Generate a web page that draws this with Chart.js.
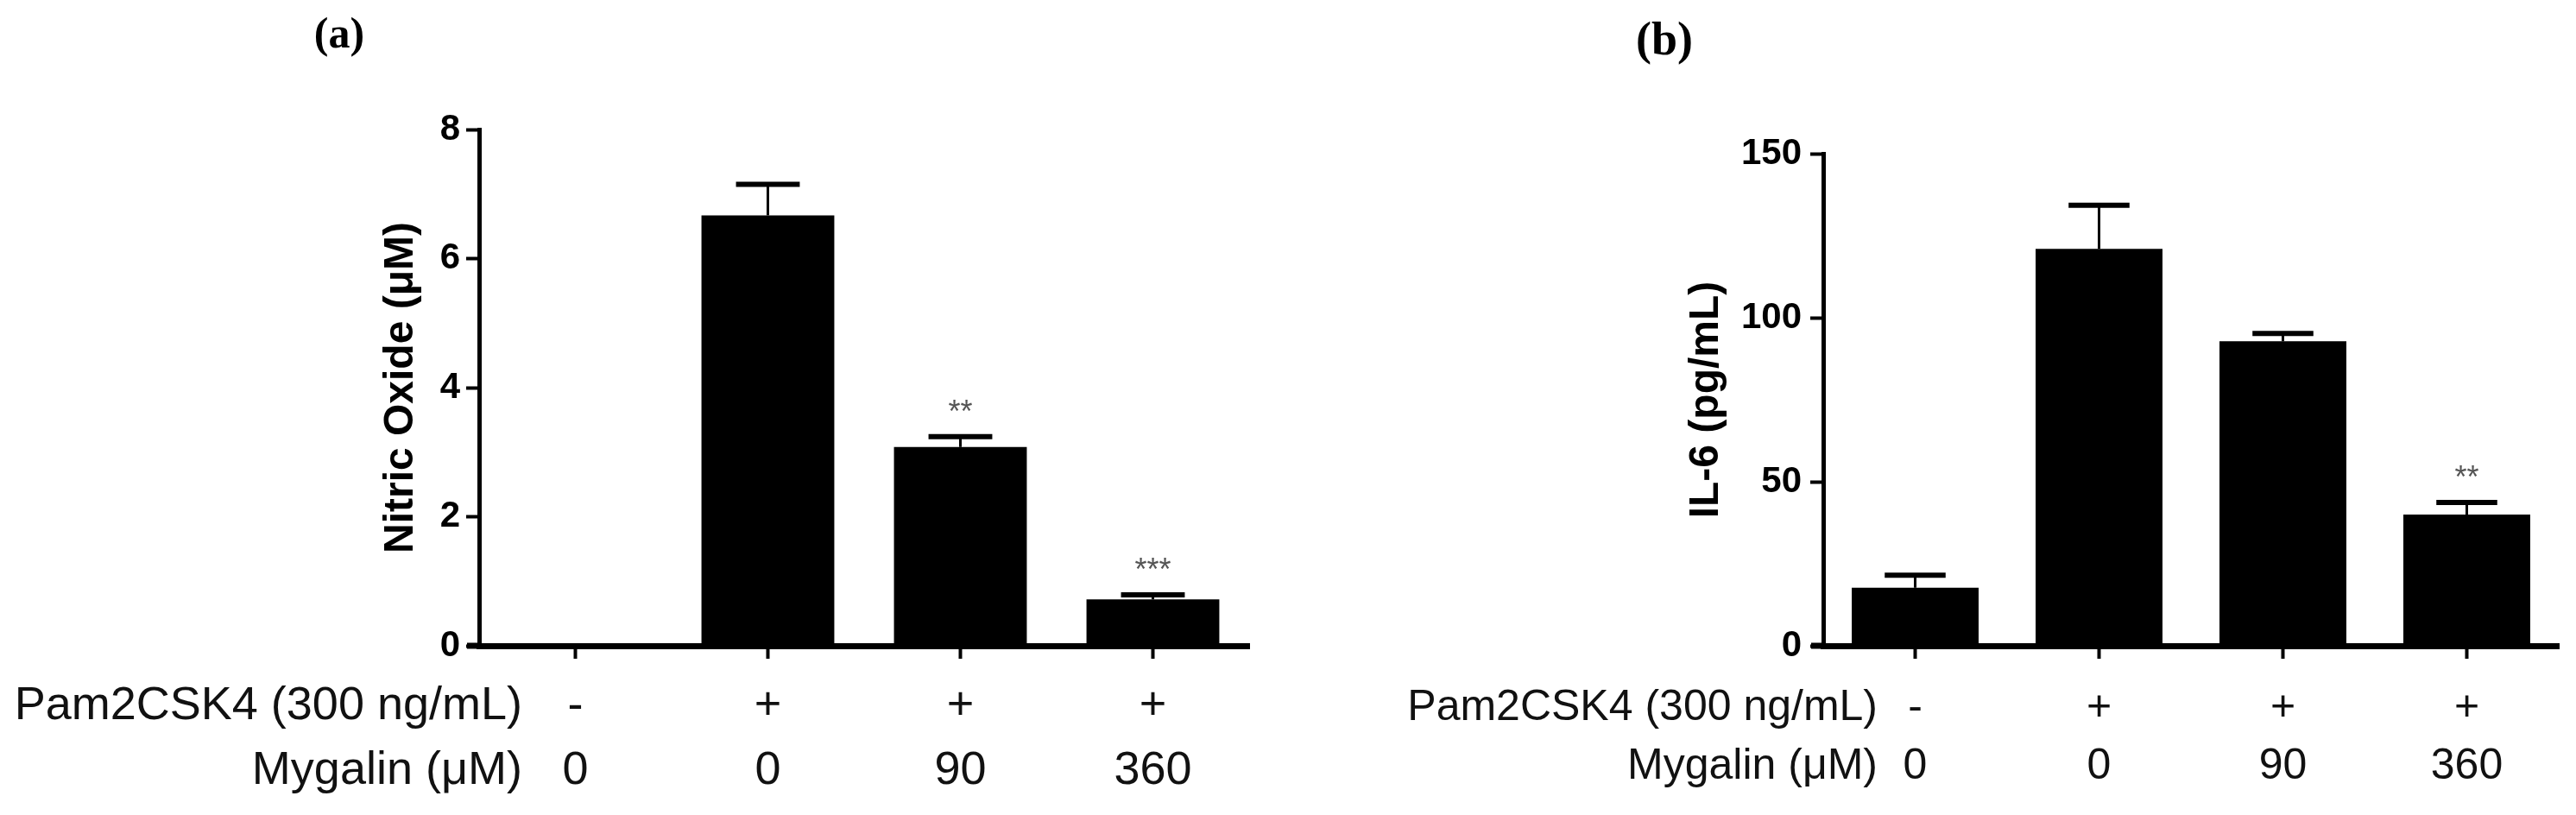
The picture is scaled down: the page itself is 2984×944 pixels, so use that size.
<!DOCTYPE html>
<html>
<head>
<meta charset="utf-8">
<script src="https://cdn.jsdelivr.net/npm/chart.js@4.4.1/dist/chart.umd.min.js"></script>
<style>
  html, body { margin: 0; padding: 0; background: #fff; }
  #wrap { position: relative; width: 2984px; height: 944px; }
  canvas { position: absolute; top: 0; }
</style>
</head>
<body>
<div id="wrap">
  <canvas id="graficoA" width="1500" height="944" style="left:0px"></canvas>
  <canvas id="graficoB" width="1484" height="944" style="left:1500px"></canvas>
</div>
<script>
// Grupos de tratamento (linhas abaixo do eixo x)
const pam2csk4 = ['-', '+', '+', '+'];
const mygalin = ['0', '0', '90', '360'];
const rowHeaders = ['Pam2CSK4 (300 ng/mL)', 'Mygalin (\u03bcM)'];

// (a) Óxido nítrico
const nitricOxide = [0, 6.67, 3.08, 0.72];
const nitricOxideErr = [0, 0.48, 0.16, 0.07];
const nitricOxideStars = ['', '', '**', '***'];
const nitricOxideTicks = [0, 2, 4, 6, 8];

// (b) IL-6
const il6 = [17.7, 121, 92.8, 40];
const il6Err = [3.8, 13.3, 2.4, 3.7];
const il6Stars = ['', '', '', '**'];
const il6Ticks = [0, 50, 100, 150];

// Rótulos de categoria com duas linhas
const categories = pam2csk4.map((p, i) => [p, mygalin[i]]);

const sans = '"Liberation Sans", Arial, sans-serif';
const serif = '"Liberation Serif", "Times New Roman", serif';

// Plugin: barras de erro, asteriscos, cabeçalhos das linhas e letra do painel
const extrasPlugin = {
    id: 'extras',
    afterDraw(chart) {
        const o = chart.options.plugins.extras;
        const ctx = chart.ctx;
        const xs = chart.scales.x;
        const ys = chart.scales.y;
        const area = chart.chartArea;
        const meta = chart.getDatasetMeta(0);

        ctx.save();
        ctx.strokeStyle = '#000';
        ctx.fillStyle = '#000';

        // eixo x começa um pouco antes do eixo y
        ctx.lineWidth = 7;
        ctx.beginPath();
        ctx.moveTo(area.left - 14, area.bottom);
        ctx.lineTo(area.left, area.bottom);
        ctx.stroke();

        meta.data.forEach((bar, i) => {
            const v = o.values[i];
            const e = o.errors[i];
            if (e > 0) {
                const yTop = ys.getPixelForValue(v + e);
                const yBar = ys.getPixelForValue(v);
                const half = bar.width * 0.24;
                ctx.lineWidth = 3;
                ctx.beginPath();
                ctx.moveTo(bar.x, yBar);
                ctx.lineTo(bar.x, yTop);
                ctx.stroke();
                ctx.lineWidth = 6;
                ctx.beginPath();
                ctx.moveTo(bar.x - half, yTop);
                ctx.lineTo(bar.x + half, yTop);
                ctx.stroke();
            }
            if (o.stars[i]) {
                const yStar = ys.getPixelForValue(v + e) - 38;
                ctx.fillStyle = '#555';
                ctx.font = '36px ' + sans;
                ctx.textAlign = 'center';
                ctx.textBaseline = 'alphabetic';
                ctx.fillText(o.stars[i], bar.x, yStar + 21);
                ctx.fillStyle = '#000';
            }
        });

        // cabeçalhos das linhas de tratamento
        const tl = xs.options.grid.tickLength;
        const pad = xs.options.ticks.padding;
        const lh = o.rowLine;
        ctx.fillStyle = '#111';
        ctx.font = o.rowFont + 'px ' + sans;
        ctx.textAlign = 'right';
        ctx.textBaseline = 'middle';
        rowHeaders.forEach((t, i) => {
            ctx.fillText(t, o.headerRight, xs.top + tl + pad + lh * (i + 0.5));
        });

        // letra do painel
        ctx.fillStyle = '#000';
        ctx.font = 'bold ' + o.panelFont + 'px ' + serif;
        ctx.textAlign = 'center';
        ctx.fillText(o.panel, o.panelX, o.panelY);
        ctx.restore();
    }
};

function criarGrafico(id, cfg) {
    const ticks = cfg.ticks;
    return new Chart(document.getElementById(id), {
        type: 'bar',
        data: {
            labels: categories,
            datasets: [{
                data: cfg.values,
                backgroundColor: '#000',
                borderWidth: 0,
                barPercentage: 0.69,
                categoryPercentage: 1
            }]
        },
        options: {
            responsive: false,
            animation: false,
            layout: { padding: { left: cfg.padLeft, top: cfg.padTop, right: cfg.padRight, bottom: 0 } },
            plugins: {
                legend: { display: false },
                tooltip: { enabled: false },
                extras: {
                    values: cfg.values,
                    errors: cfg.errors,
                    stars: cfg.stars,
                    panel: cfg.panel,
                    panelX: cfg.panelX,
                    panelY: cfg.panelY,
                    panelFont: cfg.panelFont,
                    headerRight: cfg.headerRight,
                    rowFont: cfg.rowFont,
                    rowLine: cfg.rowLine
                }
            },
            scales: {
                x: {
                    grid: { offset: false, drawOnChartArea: false, drawTicks: true, tickLength: 15, tickWidth: 4, tickColor: '#000' },
                    border: { display: true, color: '#000', width: 7 },
                    ticks: {
                        color: '#111',
                        padding: cfg.rowPad,
                        maxRotation: 0,
                        autoSkip: false,
                        font: { family: sans, size: cfg.rowFont, lineHeight: cfg.rowLine / cfg.rowFont }
                    },
                    afterFit: s => { s.height = 196; }
                },
                y: {
                    min: ticks[0],
                    max: ticks[ticks.length - 1],
                    ticks: {
                        stepSize: ticks[1] - ticks[0],
                        color: '#000',
                        padding: cfg.tickPad,
                        font: { family: sans, size: 42, weight: 'bold' }
                    },
                    grid: { drawOnChartArea: false, tickLength: 15, tickWidth: 4, tickColor: '#000' },
                    border: { display: true, color: '#000', width: 5 },
                    title: {
                        display: true,
                        text: cfg.yTitle,
                        color: '#000',
                        padding: 0,
                        font: { family: sans, size: 48, weight: 'bold' }
                    },
                    afterFit: s => { s.width = cfg.yWidth; }
                }
            }
        },
        plugins: [extrasPlugin]
    });
}

criarGrafico('graficoA', {
    values: nitricOxide, errors: nitricOxideErr, stars: nitricOxideStars, ticks: nitricOxideTicks,
    yTitle: 'Nitric Oxide (\u03bcM)', panel: '(a)', panelX: 393, panelY: 42, panelFont: 50,
    headerRight: 605, rowFont: 54, rowLine: 75, rowPad: 17.5,
    padLeft: 436, yWidth: 119, padTop: 150, padRight: 53, tickPad: 7
});

criarGrafico('graficoB', {
    values: il6, errors: il6Err, stars: il6Stars, ticks: il6Ticks,
    yTitle: 'IL-6 (pg/mL)', panel: '(b)', panelX: 428, panelY: 49, panelFont: 54,
    headerRight: 675, rowFont: 50, rowLine: 68, rowPad: 23,
    padLeft: 448, yWidth: 164, padTop: 178, padRight: 20, tickPad: 10
});
</script>
</body>
</html>
